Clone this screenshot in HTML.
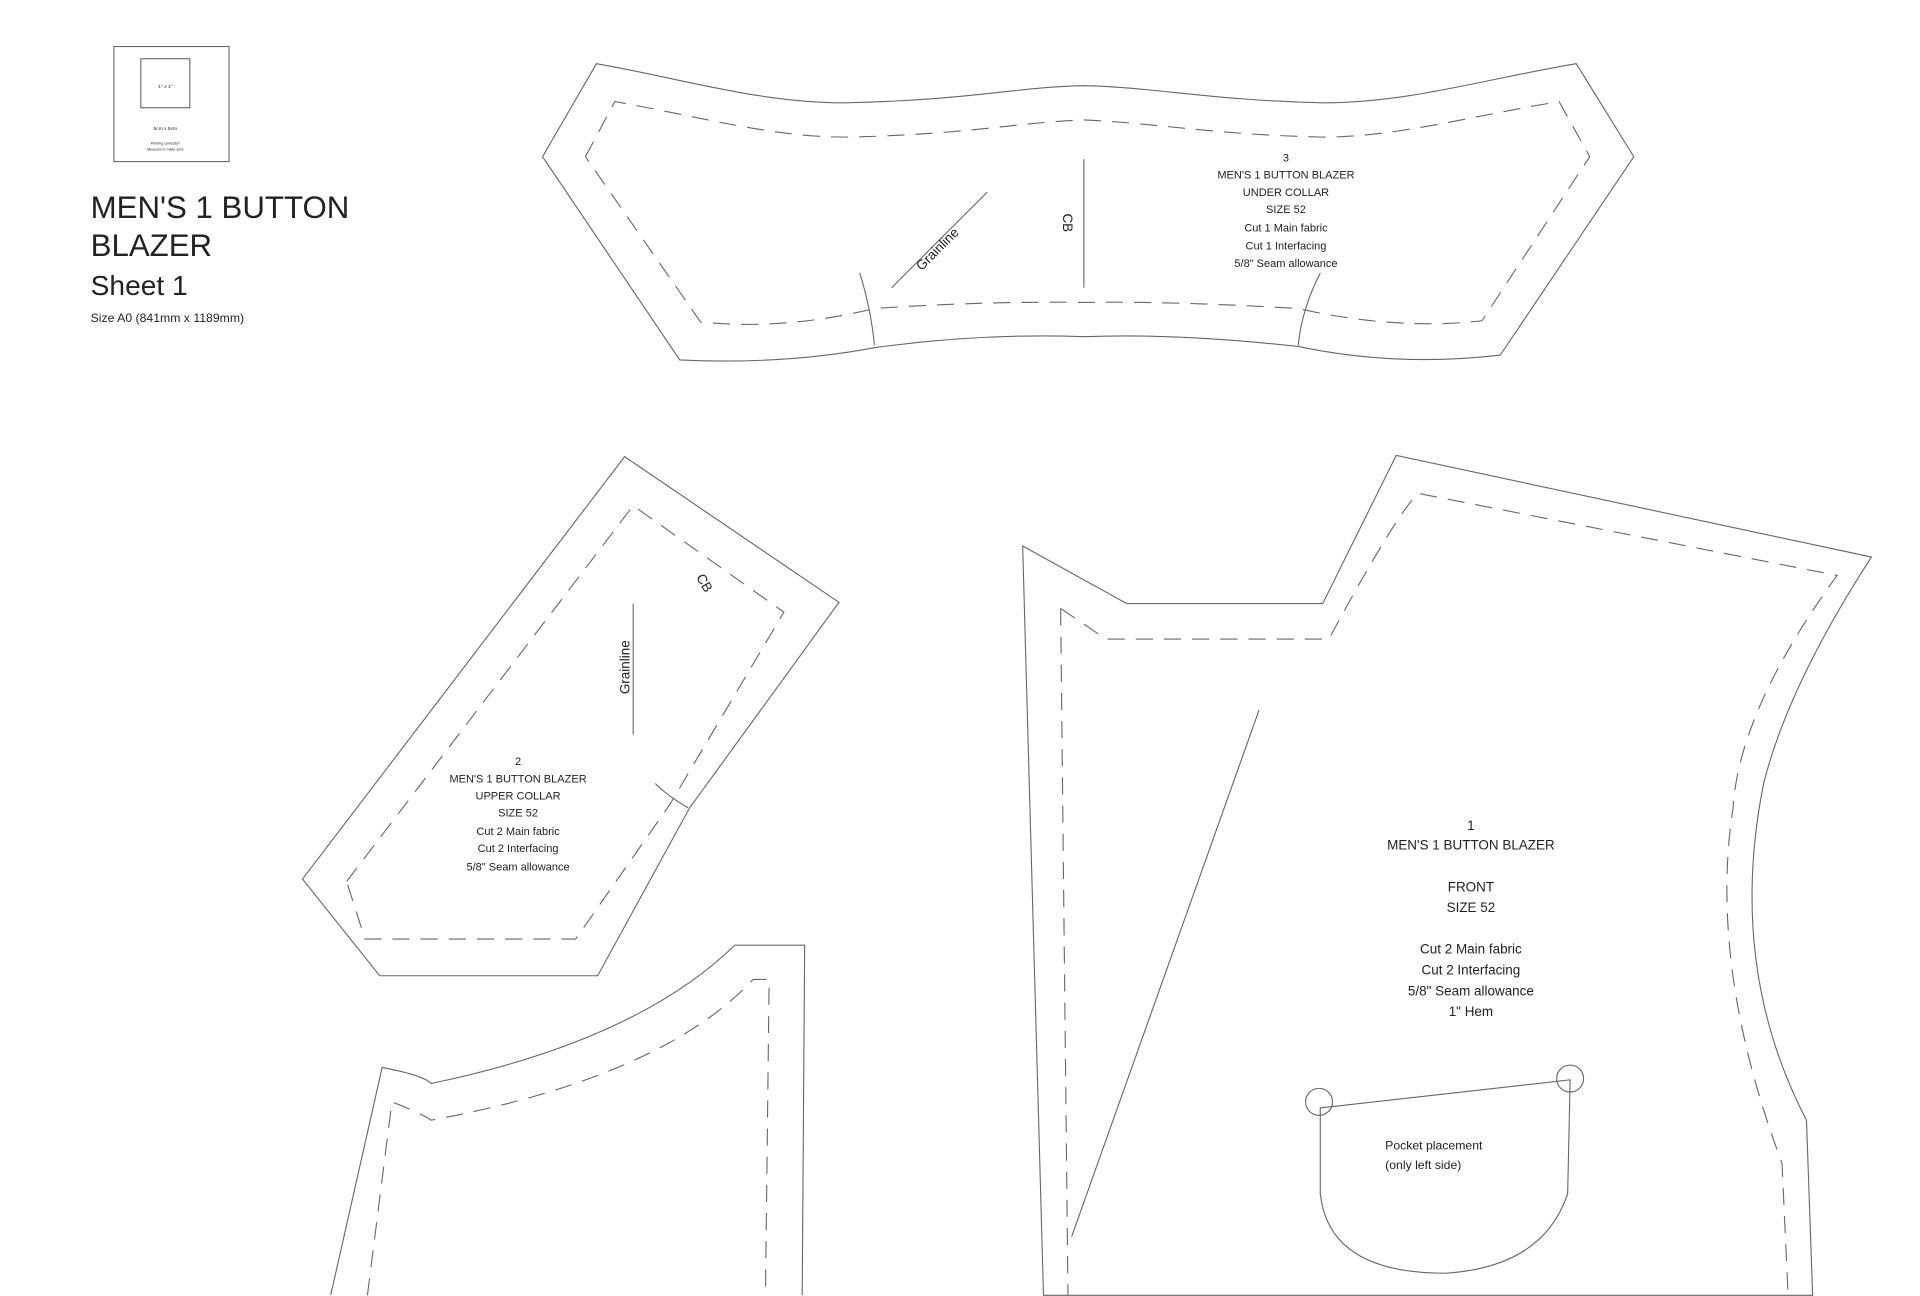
<!DOCTYPE html>
<html><head><meta charset="utf-8"><style>
html,body{margin:0;padding:0;background:#fff;}
svg{display:block}
text{font-family:"Liberation Sans",sans-serif;fill:#222}
</style></head><body>
<svg width="1920" height="1296" viewBox="0 0 1552 1048" preserveAspectRatio="none" xmlns="http://www.w3.org/2000/svg">
<g transform="scale(0.99)">
<g fill="none" stroke="#666" stroke-width="0.9">
<rect x="93" y="38" width="94" height="94"/>
<rect x="115" y="48" width="40" height="40"/>
</g>
<text x="135" y="72" font-size="4" text-anchor="middle">1" x 1"</text>
<text x="135" y="106" font-size="4" text-anchor="middle">5cm x 5cm</text>
<text x="135" y="118" font-size="3" text-anchor="middle">Printing correctly?</text>
<text x="135" y="123" font-size="3" text-anchor="middle">Measure to make sure</text>
<text x="74" y="178" font-size="25.5">MEN'S 1 BUTTON</text>
<text x="74" y="209" font-size="25.5">BLAZER</text>
<text x="74" y="241" font-size="23">Sheet 1</text>
<text x="74" y="263" font-size="10">Size A0 (841mm x 1189mm)</text>

<g fill="none" stroke="#666" stroke-width="0.9">
<path d="M443,128 L487,52 C560,65 620,84 690,84 C790,82 830,71 885,70 C940,71 990,82 1080,84 C1150,84 1210,65 1287,52 L1334,128 L1225,290 Q1140,300 1060,283 Q960,272 885,275 Q800,272 714,284 Q640,298 555,294 Z"/>
<path d="M478,128 L502,83 C570,95 630,112 690,112 C790,110 830,100 885,98 C940,100 990,110 1080,112 C1140,112 1200,95 1273,83 L1298,128 L1210,262 Q1140,270 1060,252 Q960,246 885,247 Q800,246 714,252 Q640,270 572,263 Z" stroke-dasharray="14,9"/>
<path d="M702,223 Q711,252 714,282"/>
<path d="M1078,223 Q1063,252 1060,282"/>
<line x1="885" y1="130" x2="885" y2="235"/>
<line x1="728" y1="235" x2="806" y2="157"/>
<path d="M247,718 L510,373 L685,492 L563,660 L488,797 L310,797 Z"/>
<path d="M283,720 L517,413 L640,500 L547,657 L470,767 L298,767 Z" stroke-dasharray="14,9"/>
<line x1="517" y1="493" x2="517" y2="600"/>
<path d="M535,640 Q545,650 562,660"/>
<path d="M270,1058 L312,872 Q345,878 352,885 Q520,850 600,772 L657,772 L655,1058"/>
<path d="M300,1058 L320,900 Q345,910 352,915 Q540,880 615,800 L628,800 L625,1058" stroke-dasharray="14,9"/>
<path d="M835,446 L920,493 L1080,493 L1140,372 L1528,455 Q1460,560 1440,640 Q1410,790 1475,915 L1480,1058 L852,1058 Z"/>
<path d="M866,497 L903,522 L1085,522 Q1140,420 1158,403 L1500,470 Q1420,580 1415,660 Q1395,790 1455,950 L1460,1058" stroke-dasharray="14,9"/>
<path d="M866,497 L872,1058" stroke-dasharray="14,9"/>
<line x1="1028" y1="580" x2="875" y2="1010"/>
<path d="M1078,905 L1282,882 L1280,975 Q1260,1035 1180,1040 Q1085,1040 1078,975 Z"/>
<circle cx="1077" cy="900" r="11"/>
<circle cx="1282" cy="881" r="11"/>
</g>

<g font-size="9" text-anchor="middle">
<text x="1050" y="132">3</text>
<text x="1050" y="146">MEN'S 1 BUTTON BLAZER</text>
<text x="1050" y="160">UNDER COLLAR</text>
<text x="1050" y="174">SIZE 52</text>
<text x="1050" y="189">Cut 1 Main fabric</text>
<text x="1050" y="204">Cut 1 Interfacing</text>
<text x="1050" y="218">5/8" Seam allowance</text>
<text x="423" y="625">2</text>
<text x="423" y="639">MEN'S 1 BUTTON BLAZER</text>
<text x="423" y="653">UPPER COLLAR</text>
<text x="423" y="667">SIZE 52</text>
<text x="423" y="682">Cut 2 Main fabric</text>
<text x="423" y="696">Cut 2 Interfacing</text>
<text x="423" y="711">5/8" Seam allowance</text>
</g>
<text x="868" y="182" font-size="11" text-anchor="middle" transform="rotate(90 868 182)">CB</text>
<text x="768" y="206" font-size="11" text-anchor="middle" transform="rotate(-45 768 206)">Grainline</text>
<text x="514" y="545" font-size="11" text-anchor="middle" transform="rotate(-90 514 545)">Grainline</text>
<text x="572" y="478" font-size="11" text-anchor="middle" transform="rotate(60 572 478)">CB</text>
<g font-size="11" text-anchor="middle">
<text x="1201" y="678">1</text>
<text x="1201" y="694">MEN'S 1 BUTTON BLAZER</text>
<text x="1201" y="728">FRONT</text>
<text x="1201" y="745">SIZE 52</text>
<text x="1201" y="779">Cut 2 Main fabric</text>
<text x="1201" y="796">Cut 2 Interfacing</text>
<text x="1201" y="813">5/8" Seam allowance</text>
<text x="1201" y="830">1" Hem</text>
</g>
<text x="1131" y="939" font-size="10">Pocket placement</text>
<text x="1131" y="955" font-size="10">(only left side)</text>
</g>
</svg>
</body></html>
